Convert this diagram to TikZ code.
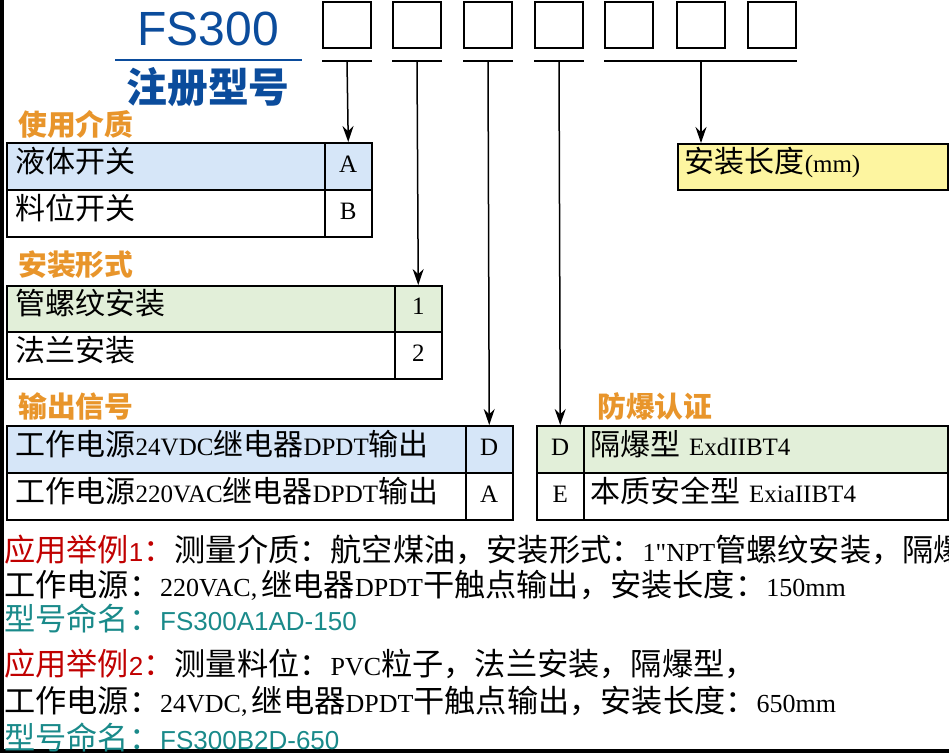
\documentclass[tikz,border=0pt]{standalone}
\usepackage{fontspec}
\setmainfont{Liberation Serif}
\newfontfamily\cjk[Scale=1.2]{Noto Sans CJK SC}
\newfontfamily\hd{Liberation Sans}
\usetikzlibrary{positioning, arrows.meta}
\definecolor{fsblue}{HTML}{0B4C9C}
\definecolor{fsorange}{HTML}{E8952B}
\definecolor{cellblue}{HTML}{D6E6F8}
\definecolor{cellgreen}{HTML}{E2EFD9}
\definecolor{cellyellow}{HTML}{FDF5A0}
\definecolor{exred}{HTML}{C00000}
\definecolor{exteal}{HTML}{1A8A8A}
\tikzset{
    >={Stealth[length=16pt,width=11pt]}, % arrow heads
    slot/.style={draw, line width=2pt, minimum width=48pt, minimum height=46pt, inner sep=0pt},
    cell/.style={draw, line width=1.5pt, anchor=north west, inner sep=0pt, text height=18pt, text depth=6pt, font=\fontsize{25}{28}\selectfont},
    head/.style={anchor=west, text=fsorange, font=\cjk\fontsize{24}{26}\selectfont\bfseries, inner sep=0pt},
    line/.style={anchor=west, inner sep=0pt, font=\fontsize{26}{28}\selectfont},
}
\newcommand{\zh}[1]{{\cjk #1}}
\newcommand{\inch}{\XeTeXglyph\XeTeXglyphindex "quotedbl"\relax}
\begin{document}
\begin{tikzpicture}[x=1pt, y=-1pt]
    \useasboundingbox (0,0) rectangle (949,753);
    % frame
    \draw[line width=4pt] (2,0) -- (2,751) -- (949,751);
    % title
    \node[text=fsblue, font=\hd\fontsize{48}{48}\selectfont] (fs) at (208,29) {FS300};
    \draw[fsblue, line width=2pt] (115,60) -- (302,60);
    \node[text=fsblue, font=\cjk\fontsize{34}{36}\selectfont\bfseries] (reg) at (208,87) {注册型号};
    % code slots
    \foreach \x [count=\i] in {347,417,488,559,629,701,772}
        \node[slot] (s\i) at (\x,25) {};
    \foreach \i in {1,2,3,4}
        \draw[line width=2pt] ([yshift=-12pt]s\i.south west) -- ([yshift=-12pt]s\i.south east);
    \draw[line width=2pt] ([yshift=-12pt]s5.south west) -- ([yshift=-12pt]s7.south east);
    % tables
    \node[head] (h1) at (18,124) {使用介质};
    \node[cell, fill=cellblue, minimum width=318pt, minimum height=47pt, text width=300pt, align=left] (a1) at (6,142) {\zh{液体开关}};
    \node[cell, fill=cellblue, minimum width=47pt, minimum height=47pt] (a2) at (324,142) {A};
    \node[cell, minimum width=318pt, minimum height=47pt, text width=300pt, align=left] (b1) at (6,189) {\zh{料位开关}};
    \node[cell, minimum width=47pt, minimum height=47pt] (b2) at (324,189) {B};

    \node[head] (h2) at (18,265) {安装形式};
    \node[cell, fill=cellgreen, minimum width=388pt, minimum height=46pt, text width=370pt, align=left] (c1) at (6,285) {\zh{管螺纹安装}};
    \node[cell, fill=cellgreen, minimum width=47pt, minimum height=46pt] (c2) at (394,285) {1};
    \node[cell, minimum width=388pt, minimum height=47pt, text width=370pt, align=left] (d1) at (6,331) {\zh{法兰安装}};
    \node[cell, minimum width=47pt, minimum height=47pt] (d2) at (394,331) {2};

    \node[head] (h3) at (18,406) {输出信号};
    \node[cell, fill=cellblue, minimum width=459pt, minimum height=47pt, text width=441pt, align=left] (e1) at (6,425) {\zh{工作电源}24VDC\zh{继电器}DPDT\zh{输出}};
    \node[cell, fill=cellblue, minimum width=47pt, minimum height=47pt] (e2) at (465,425) {D};
    \node[cell, minimum width=459pt, minimum height=47pt, text width=441pt, align=left] (f1) at (6,472) {\zh{工作电源}220VAC\zh{继电器}DPDT\zh{输出}};
    \node[cell, minimum width=47pt, minimum height=47pt] (f2) at (465,472) {A};

    \node[head] (h4) at (597,406) {防爆认证};
    \node[cell, fill=cellgreen, minimum width=47pt, minimum height=47pt] (g1) at (536,425) {D};
    \node[cell, fill=cellgreen, minimum width=364pt, minimum height=47pt, text width=350pt, align=left] (g2) at (583,425) {\zh{隔爆型} ExdIIBT4};
    \node[cell, minimum width=47pt, minimum height=47pt] (k1) at (536,472) {E};
    \node[cell, minimum width=364pt, minimum height=47pt, text width=350pt, align=left] (k2) at (583,472) {\zh{本质安全型} ExiaIIBT4};

    \node[cell, fill=cellyellow, minimum width=270pt, minimum height=46pt, text width=256pt, align=left] (len) at (677,143) {\zh{安装长度}(mm)};
    % arrows
    \draw[->, line width=1.5pt] ([yshift=-12pt]s1.south) -- (a2.north);
    \draw[->, line width=1.5pt] ([yshift=-12pt]s2.south) -- (c2.north);
    \draw[->, line width=1.5pt] ([yshift=-12pt]s3.south) -- (e2.north);
    \draw[->, line width=1.5pt] ([yshift=-12pt]s4.south) -- (g1.north);
    \draw[->, line width=1.5pt] ([yshift=-12pt]s6.south) -- (len.north -| s6);
    % examples
    \node[line] (x1) at (4,550) {\textcolor{exred}{\zh{应用举例}\hd 1\zh{：}}\zh{测量介质：航空煤油，安装形式：}1\inch NPT\zh{管螺纹安装，隔爆型}};
    \node[line] (x2) at (4,585) {\zh{工作电源：}220VAC,\,\zh{继电器}DPDT\zh{干触点输出，安装长度：}150mm};
    \node[line, text=exteal] (x3) at (4,618) {\zh{型号命名：}\hd FS300A1AD-150};
    \node[line] (x4) at (4,664) {\textcolor{exred}{\zh{应用举例}\hd 2\zh{：}}\zh{测量料位：}PVC\zh{粒子，法兰安装，隔爆型，}};
    \node[line] (x5) at (4,701) {\zh{工作电源：}24VDC,\,\zh{继电器}DPDT\zh{干触点输出，安装长度：}650mm};
    \node[line, text=exteal] (x6) at (4,737) {\zh{型号命名：}\hd FS300B2D-650};
\end{tikzpicture}
\end{document}
